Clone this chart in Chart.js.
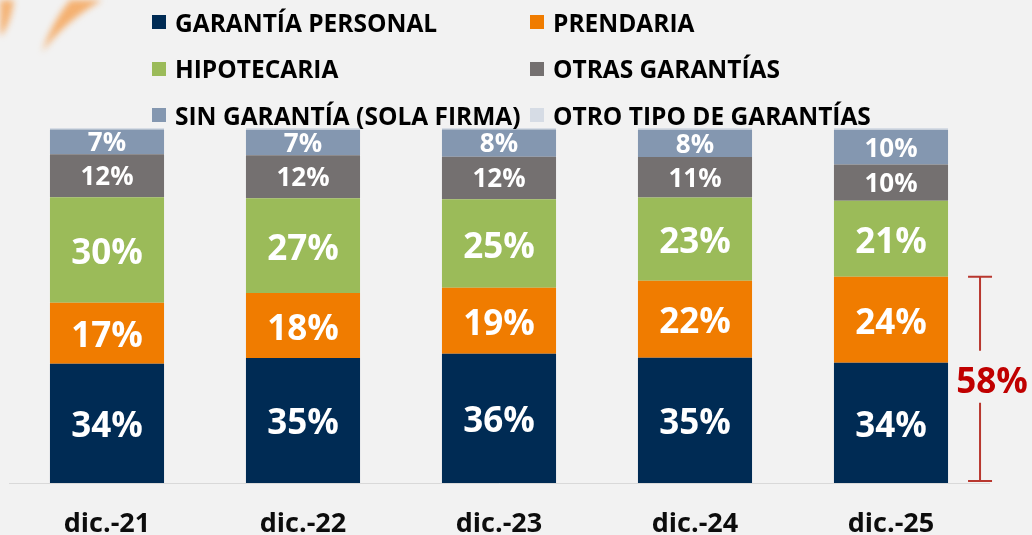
<!DOCTYPE html>
<html>
<head>
<meta charset="utf-8">
<script src="https://cdn.jsdelivr.net/npm/chart.js@4/dist/chart.umd.min.js"></script>
<style>
  html, body { margin: 0; padding: 0; background: #f2f2f2; }
  #wrap { position: relative; width: 1032px; height: 535px; overflow: hidden; background: #f2f2f2; }
  #c { position: absolute; left: 0; top: 0; }
  #legend { position: absolute; left: 152px; top: 0; width: 880px; height: 130px;
            font-family: "Open Sans", "Noto Sans", sans-serif; font-weight: 700; font-size: 24.5px; color: #000; }
  .li { position: absolute; display: flex; align-items: center; white-space: nowrap; }
  .sw { width: 14px; height: 14px; margin-right: 9px; flex: none; }
</style>
</head>
<body>
<div id="wrap">
  <canvas id="c" width="1032" height="535"></canvas>
  <div id="legend"></div>
</div>
<script>
const categories = ['dic.-21', 'dic.-22', 'dic.-23', 'dic.-24', 'dic.-25'];
const seriesNames = ['GARANTÍA PERSONAL', 'PRENDARIA', 'HIPOTECARIA', 'OTRAS GARANTÍAS', 'SIN GARANTÍA (SOLA FIRMA)', 'OTRO TIPO DE GARANTÍAS'];
const garantiaPersonal = [33.6, 35.2, 36.4, 35.3, 33.9];
const prendaria        = [17.2, 18.3, 18.6, 21.7, 24.2];
const hipotecaria      = [29.7, 26.7, 24.9, 23.4, 21.4];
const otrasGarantias   = [12.1, 12.1, 12.0, 11.4, 10.2];
const sinGarantia      = [7.0, 7.2, 7.7, 7.7, 9.8];
const otroTipo         = [0.4, 0.5, 0.4, 0.5, 0.5];
const seriesColors = ['#002b54', '#f07c00', '#9bbb59', '#747070', '#8497b0', '#d6dce5'];

const allSeries = [garantiaPersonal, prendaria, hipotecaria, otrasGarantias, sinGarantia, otroTipo];

const FONT = '"Open Sans", "Noto Sans", sans-serif';

const decoPlugin = {
  id: 'deco',
  beforeDraw(chart) {
    const ctx = chart.ctx;
    ctx.save();
    ctx.filter = 'blur(3px)';
    ctx.fillStyle = 'rgba(245,160,80,0.75)';
    ctx.beginPath();
    ctx.moveTo(0, 0); ctx.lineTo(14, 0); ctx.quadraticCurveTo(12, 18, 4, 32); ctx.lineTo(0, 36); ctx.closePath();
    ctx.fill();
    ctx.fillStyle = 'rgba(245,160,80,0.8)';
    ctx.beginPath();
    ctx.moveTo(42, 52); ctx.quadraticCurveTo(52, 22, 70, 0); ctx.lineTo(102, 0);
    ctx.quadraticCurveTo(64, 22, 42, 52); ctx.closePath();
    ctx.fill();
    ctx.restore();
  }
};

const labelPlugin = {
  id: 'segLabels',
  afterDatasetsDraw(chart) {
    const ctx = chart.ctx;
    ctx.save();
    ctx.textAlign = 'center';
    ctx.textBaseline = 'middle';
    ctx.fillStyle = '#ffffff';
    chart.data.datasets.forEach((ds, di) => {
      if (di > 4) return;
      const meta = chart.getDatasetMeta(di);
      ctx.font = (di <= 2 ? '700 35px ' : '700 26px ') + FONT;
      meta.data.forEach((el, i) => {
        const v = ds.data[i];
        const y = (el.y + el.base) / 2 + (di <= 2 ? 4 : 2);
        ctx.fillText(Math.round(v) + '%', el.x, y);
      });
    });
    // bracket for last category: personal + prendaria
    const last = categories.length - 1;
    const m0 = chart.getDatasetMeta(0).data[last];
    const m1 = chart.getDatasetMeta(1).data[last];
    const total = garantiaPersonal[last] + prendaria[last];
    const x = m0.x + m0.width / 2 + 32;
    const yTop = m1.y;
    const yBot = m0.base - 2;
    const midY = chart.scales.y.getPixelForValue(total / 2);
    ctx.strokeStyle = '#b8372f';
    ctx.lineWidth = 2;
    ctx.beginPath();
    ctx.moveTo(x - 12, yTop); ctx.lineTo(x + 12, yTop);
    ctx.moveTo(x, yTop); ctx.lineTo(x, midY - 29);
    ctx.moveTo(x, midY + 23); ctx.lineTo(x, yBot);
    ctx.moveTo(x - 12, yBot); ctx.lineTo(x + 12, yBot);
    ctx.stroke();
    ctx.fillStyle = '#c00000';
    ctx.font = '700 35px ' + FONT;
    ctx.fillText(Math.round(total) + '%', x + 12, midY + 3);
    ctx.restore();
  }
};

const chart = new Chart(document.getElementById('c'), {
  type: 'bar',
  data: {
    labels: categories,
    datasets: allSeries.map((d, i) => ({
      label: seriesNames[i],
      data: d,
      backgroundColor: seriesColors[i],
      borderWidth: 0,
      categoryPercentage: 1,
      barPercentage: 0.582
    }))
  },
  options: {
    responsive: false,
    animation: false,
    layout: { padding: { left: 9, right: 43, top: 128, bottom: 0 } },
    plugins: { legend: { display: false }, tooltip: { enabled: false }, title: { display: false } },
    scales: {
      x: {
        stacked: true,
        grid: { display: false, drawTicks: false },
        border: { display: true, color: '#d9d9d9', width: 1 },
        ticks: { color: '#0d0d0d', font: { family: FONT, size: 27, weight: '700', lineHeight: 1.2 }, padding: 25 },
        afterFit(scale) { scale.height = 52; }
      },
      y: {
        stacked: true,
        display: false,
        min: 0,
        max: 100
      }
    }
  },
  plugins: [decoPlugin, labelPlugin]
});

// legend built from the dataset definitions
const legendEl = document.getElementById('legend');
const colX = [0, 378];
const rowY = [22, 68.5, 115];
seriesNames.forEach((name, i) => {
  const item = document.createElement('div');
  item.className = 'li';
  item.style.left = colX[i % 2] + 'px';
  item.style.top = (rowY[Math.floor(i / 2)] - 17) + 'px';
  item.style.height = '34px';
  const sw = document.createElement('span');
  sw.className = 'sw';
  sw.style.background = seriesColors[i];
  const tx = document.createElement('span');
  tx.textContent = name;
  item.appendChild(sw);
  item.appendChild(tx);
  legendEl.appendChild(item);
});
</script>
</body>
</html>
